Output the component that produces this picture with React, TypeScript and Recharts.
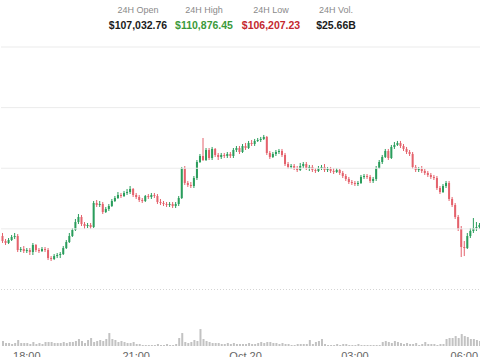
import React from "react";
import { ComposedChart, Bar, XAxis, YAxis, ReferenceLine } from "recharts";

// 5-minute BTC candles, 17:20 -> 06:25
const FIRST_OPEN = 108882;
const closes = [
  108800, 108767, 108816, 108866, 108882, 108651, 108668, 108635, 108651, 108618,
  108734, 108651, 108635, 108668, 108651, 108519, 108503, 108552, 108569, 108585,
  108684, 108783, 108882, 108981, 109113, 109196, 109080, 109047, 109064, 109031,
  109427, 109394, 109410, 109278, 109328, 109377, 109460, 109509, 109559, 109542,
  109592, 109608, 109658, 109559, 109526, 109476, 109460, 109542, 109526, 109559,
  109542, 109443, 109427, 109410, 109394, 109410, 109377, 109410, 109509, 110004,
  109757, 109724, 109707, 109839, 110103, 110202, 110136, 110301, 110169, 110318,
  110219, 110186, 110219, 110202, 110235, 110202, 110301, 110334, 110268, 110367,
  110334, 110417, 110400, 110450, 110466, 110483, 110516, 110252, 110186, 110235,
  110268, 110285, 110219, 110070, 110021, 110037, 110004, 109971, 110037, 110070,
  110004, 110021, 109971, 109955, 110004, 110021, 109971, 109988, 109955, 109938,
  109971, 109922, 109872, 109823, 109773, 109757, 109740, 109757, 109856, 109872,
  109856, 109790, 109823, 110004, 110103, 110186, 110285, 110169, 110351, 110384,
  110417, 110367, 110318, 110268, 110235, 110021, 109971, 109988, 109955, 109922,
  109889, 109856, 109839, 109674, 109608, 109707, 109757, 109493, 109394, 109196,
  108998, 108701, 108684, 108882, 108965, 109014, 109031, 109064,
];
const highs = [
  108932, 108833, 108849, 108899, 108932, 108915, 108701, 108717, 108684, 108684,
  108767, 108750, 108684, 108701, 108701, 108684, 108552, 108585, 108602, 108618,
  108717, 108816, 108932, 109014, 109163, 109245, 109229, 109113, 109097, 109097,
  109460, 109476, 109460, 109443, 109361, 109410, 109493, 109542, 109608, 109592,
  109625, 109658, 109707, 109674, 109592, 109559, 109509, 109559, 109575, 109592,
  109592, 109575, 109493, 109460, 109443, 109443, 109443, 109443, 109542, 110021,
  110037, 109790, 109773, 109872, 110136, 110235, 110499, 110334, 110334, 110351,
  110334, 110252, 110252, 110252, 110268, 110268, 110334, 110367, 110367, 110400,
  110417, 110450, 110466, 110483, 110499, 110516, 110549, 110532, 110285, 110268,
  110301, 110318, 110318, 110252, 110103, 110070, 110070, 110037, 110087, 110103,
  110103, 110054, 110054, 110004, 110037, 110054, 110070, 110021, 110021, 110004,
  110004, 109988, 109955, 109905, 109856, 109806, 109790, 109790, 109889, 109905,
  109905, 109889, 109856, 110037, 110136, 110219, 110318, 110318, 110384, 110433,
  110450, 110450, 110400, 110351, 110301, 110268, 110054, 110021, 110037, 109988,
  109955, 109922, 109889, 109872, 109707, 109740, 109790, 109790, 109526, 109427,
  109229, 109047, 108800, 108932, 109014, 109179, 109113, 109097,
];
const lows = [
  108767, 108734, 108750, 108800, 108833, 108618, 108618, 108602, 108602, 108569,
  108569, 108618, 108602, 108618, 108618, 108486, 108470, 108486, 108519, 108519,
  108569, 108668, 108767, 108866, 108965, 109080, 109047, 108998, 109014, 108998,
  109014, 109361, 109361, 109245, 109262, 109295, 109361, 109443, 109493, 109509,
  109526, 109559, 109575, 109526, 109493, 109443, 109427, 109443, 109493, 109493,
  109509, 109410, 109394, 109377, 109361, 109361, 109344, 109344, 109377, 109493,
  109724, 109691, 109674, 109674, 109806, 110087, 110120, 110120, 110136, 110136,
  110186, 110136, 110153, 110169, 110169, 110169, 110169, 110268, 110235, 110252,
  110301, 110318, 110367, 110367, 110433, 110433, 110466, 110219, 110153, 110169,
  110202, 110235, 110186, 110037, 109988, 109988, 109971, 109938, 109955, 110004,
  109971, 109955, 109938, 109922, 109938, 109971, 109938, 109938, 109922, 109905,
  109922, 109889, 109839, 109790, 109740, 109724, 109707, 109707, 109740, 109823,
  109823, 109757, 109757, 109790, 109988, 110070, 110169, 110136, 110153, 110318,
  110367, 110334, 110285, 110235, 110202, 109988, 109938, 109938, 109922, 109889,
  109856, 109823, 109806, 109641, 109575, 109592, 109674, 109460, 109361, 109163,
  108965, 108536, 108552, 108668, 108849, 108932, 108965, 108998,
];
const volumes = [
  50, 30, 30, 20, 30, 60, 30, 30, 30, 20,
  40, 20, 30, 20, 40, 40, 40, 30, 30, 30,
  40, 30, 40, 40, 50, 70, 50, 30, 60, 80,
  40, 50, 60, 50, 70, 130, 70, 60, 40, 50,
  40, 30, 30, 40, 20, 20, 10, 10, 10, 10,
  10, 20, 10, 10, 20, 10, 10, 20, 80, 130,
  40, 30, 40, 60, 50, 170, 70, 50, 40, 30,
  30, 30, 20, 20, 30, 20, 30, 20, 20, 20,
  20, 30, 20, 20, 30, 40, 30, 40, 40, 30,
  30, 20, 30, 20, 20, 10, 10, 20, 20, 20,
  20, 60, 20, 40, 50, 70, 20, 10, 10, 10,
  20, 10, 20, 20, 10, 10, 10, 20, 10, 10,
  10, 10, 10, 10, 10, 40, 50, 40, 30, 50,
  40, 30, 20, 30, 20, 20, 30, 10, 20, 40,
  20, 20, 20, 10, 20, 20, 70, 80, 80, 100,
  80, 120, 100, 90, 70, 70, 60, 50,
];

const statLabels = ["24H Open", "24H High", "24H Low", "24H Vol."];
const statValues = ["$107,032.76", "$110,876.45", "$106,207.23", "$25.66B"];
const statColors = ["#1b1b1b", "#3b9a3b", "#c4282f", "#1b1b1b"];
const statCenters = [138, 204, 271, 336];

const xTicks = ["18:00", "21:00", "Oct 20", "03:00", "06:00"];
const gridLevels = [112000, 111000, 110000, 109000];
const dottedLevel = 108000;

const GREEN = "#2a9d5c";
const RED = "#e4626c";
const START_MIN = 17 * 60 + 20;

const timeLabel = (i: number) => {
  const m = (START_MIN + i * 5) % 1440;
  if (m === 0) return "Oct 20";
  const hh = String(Math.floor(m / 60)).padStart(2, "0");
  const mm = String(m % 60).padStart(2, "0");
  return `${hh}:${mm}`;
};

const data = closes.map((close, i) => ({
  time: timeLabel(i),
  open: i === 0 ? FIRST_OPEN : closes[i - 1],
  close,
  high: highs[i],
  low: lows[i],
  range: [lows[i], highs[i]],
  volume: volumes[i],
}));

const Candle = (props: any) => {
  const { x, y, width, height, payload } = props;
  if (x == null || !payload) return null;
  const { open, close, high, low } = payload;
  const color = close >= open ? GREEN : RED;
  const span = high - low || 1;
  const py = (v: number) => y + ((high - v) / span) * height;
  const cx = x + width / 2;
  const top = py(Math.max(open, close));
  const bot = py(Math.min(open, close));
  return (
    <g>
      <line x1={cx} x2={cx} y1={y} y2={y + height} stroke={color} strokeWidth={1} />
      <rect x={cx - 1} y={top} width={2} height={Math.max(1, bot - top)} fill={color} />
    </g>
  );
};

export default function App() {
  return (
    <div
      style={{
        position: "absolute", left: 0, top: 0, width: 480, height: 357,
        background: "#fff", overflow: "hidden",
        fontFamily: "'Liberation Sans', Arial, sans-serif",
      }}
    >
      {statLabels.map((label, i) => (
        <div
          key={label}
          style={{ position: "absolute", left: statCenters[i] - 45, width: 90, top: 5, textAlign: "center" }}
        >
          <div style={{ fontSize: 9, color: "#8a8a8a", lineHeight: "11px" }}>{label}</div>
          <div style={{ fontSize: 10.5, fontWeight: 700, color: statColors[i], lineHeight: "13px", marginTop: 3 }}>
            {statValues[i]}
          </div>
        </div>
      ))}
      <ComposedChart
        width={480}
        height={357}
        data={data}
        margin={{ top: 47, right: -1, bottom: 0, left: 1 }}
        barCategoryGap={0}
      >
        <XAxis
          dataKey="time"
          ticks={xTicks}
          interval={0}
          axisLine={false}
          tickLine={false}
          height={11}
          tickMargin={0}
          tick={{ fontSize: 11, fill: "#666" }}
        />
        <XAxis xAxisId="vol" dataKey="time" hide />
        <YAxis yAxisId="price" domain={[107068, 112000]} allowDataOverflow hide />
        <YAxis yAxisId="vol" domain={[0, 3000]} allowDataOverflow hide />
        {gridLevels.map((lvl) => (
          <ReferenceLine key={lvl} yAxisId="price" y={lvl} stroke="#ebebeb" />
        ))}
        <ReferenceLine yAxisId="price" y={dottedLevel} stroke="#d4d4d4" strokeDasharray="1 2" />
        <Bar xAxisId="vol" yAxisId="vol" dataKey="volume" fill="#c2c2c2" barSize={2} isAnimationActive={false} />
        <Bar yAxisId="price" dataKey="range" shape={<Candle />} isAnimationActive={false} />
      </ComposedChart>
    </div>
  );
}
